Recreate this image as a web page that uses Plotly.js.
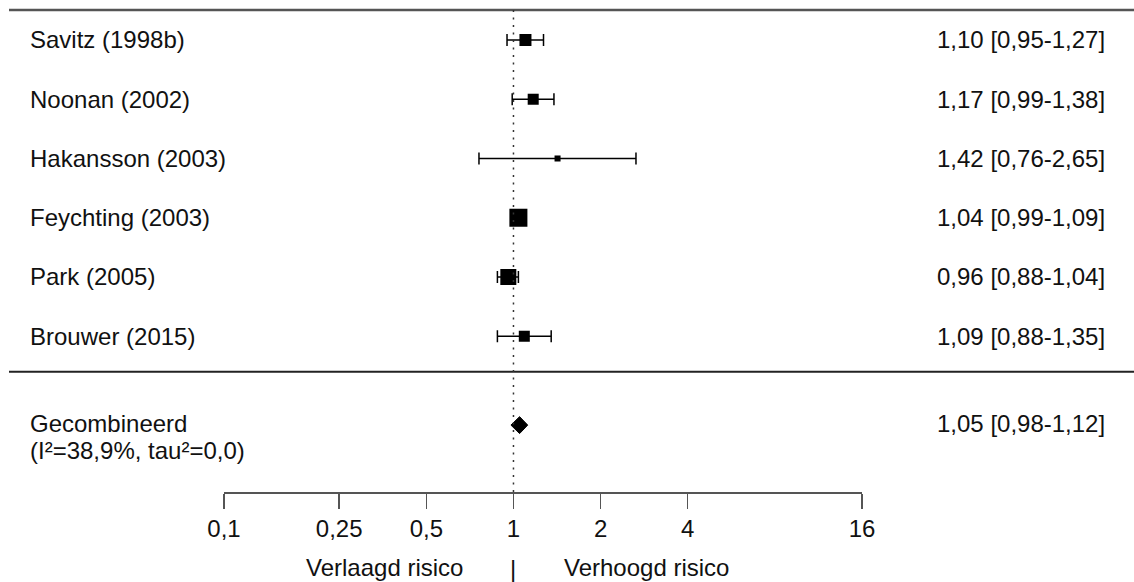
<!DOCTYPE html>
<html>
<head>
<meta charset="utf-8">
<script src="https://cdn.plot.ly/plotly-3.0.1.min.js"></script>
<style>html,body{margin:0;padding:0;background:#fff;}#chart{width:1134px;height:582px;}</style>
</head>
<body>
<div id="chart"></div>
<script>
// ---- data ----
const studies = ["Savitz (1998b)", "Noonan (2002)", "Hakansson (2003)", "Feychting (2003)", "Park (2005)", "Brouwer (2015)"];
const estimates = [1.10, 1.17, 1.42, 1.04, 0.96, 1.09];
const lowerCI = [0.95, 0.99, 0.76, 0.99, 0.88, 0.88];
const upperCI = [1.27, 1.38, 2.65, 1.09, 1.04, 1.35];
const weights = [14.4, 12.1, 3.6, 32.3, 25.5, 12.1]; // relative study weights (%)
const pooledLabel = "Gecombineerd";
const heterogeneityLabel = "(I\u00b2=38,9%, tau\u00b2=0,0)";
const pooledEstimate = 1.05;
const pooledLower = 0.98;
const pooledUpper = 1.12;
const tickValues = [0.1, 0.25, 0.5, 1, 2, 4, 16];
const tickLabels = ["0,1", "0,25", "0,5", "1", "2", "4", "16"];
const lowerLabel = "Verlaagd risico";
const upperLabel = "Verhoogd risico";

// ---- layout helpers ----
const FONT = "Liberation Sans, Arial, sans-serif";
const FS = 24;
const TXT = "#111";
const rows = studies.map((_, i) => i);
const pooledRow = rows.length + 0.5;
const fmt = v => v.toFixed(2).replace(".", ",");
const sizeScale = 3.17;
const diamondHalf = 0.143;

const traces = [];
// study CIs (whiskers)
traces.push({
  type: "scatter", mode: "markers",
  x: estimates, y: rows,
  error_x: {
    type: "data", symmetric: false,
    array: estimates.map((e, i) => upperCI[i] - e),
    arrayminus: estimates.map((e, i) => e - lowerCI[i]),
    color: "#000", thickness: 1.5, width: 6
  },
  marker: { size: 1, opacity: 0 },
  hoverinfo: "skip"
});
// study boxes
traces.push({
  type: "scatter", mode: "markers",
  x: estimates, y: rows,
  marker: { symbol: "square", color: "#000", opacity: 1, size: weights.map(w => Math.sqrt(w) * sizeScale), line: { width: 0 } },
  hoverinfo: "skip"
});
// pooled diamond
traces.push({
  type: "scatter", mode: "lines",
  x: [pooledLower, pooledEstimate, pooledUpper, pooledEstimate, pooledLower],
  y: [pooledRow, pooledRow - diamondHalf, pooledRow, pooledRow + diamondHalf, pooledRow],
  fill: "toself", fillcolor: "#000", line: { color: "#000", width: 1 },
  hoverinfo: "skip"
});
// dummy trace for bottom axis
traces.push({
  type: "scatter", mode: "markers", x: [1], y: [null], xaxis: "x2", yaxis: "y",
  marker: { opacity: 0 }, hoverinfo: "skip"
});

const W = 1134, H = 582;
const annotations = [];
studies.forEach((s, i) => {
  annotations.push({ xref: "paper", yref: "y", x: 28 / W, y: rows[i], text: s, showarrow: false,
    xanchor: "left", yanchor: "middle", font: { family: FONT, size: FS, color: TXT } });
  annotations.push({ xref: "paper", yref: "y", x: 1107 / W, y: rows[i],
    text: fmt(estimates[i]) + " [" + fmt(lowerCI[i]) + "-" + fmt(upperCI[i]) + "]",
    showarrow: false, xanchor: "right", yanchor: "middle", font: { family: FONT, size: FS, color: TXT } });
});
annotations.push({ xref: "paper", yref: "y", x: 28 / W, y: pooledRow, text: pooledLabel,
  showarrow: false, xanchor: "left", yanchor: "middle", yshift: 2,
  font: { family: FONT, size: FS, color: TXT } });
annotations.push({ xref: "paper", yref: "y", x: 28 / W, y: pooledRow, text: heterogeneityLabel,
  showarrow: false, xanchor: "left", yanchor: "middle", yshift: -25,
  font: { family: FONT, size: FS, color: TXT } });
annotations.push({ xref: "paper", yref: "y", x: 1107 / W, y: pooledRow,
  text: fmt(pooledEstimate) + " [" + fmt(pooledLower) + "-" + fmt(pooledUpper) + "]",
  showarrow: false, xanchor: "right", yanchor: "middle", yshift: 2, font: { family: FONT, size: FS, color: TXT } });
annotations.push({ xref: "x", yref: "paper", x: 0, y: 1 - 567 / H, text: lowerLabel, showarrow: false,
  xanchor: "right", yanchor: "middle", xshift: -48, font: { family: FONT, size: FS, color: TXT } });
annotations.push({ xref: "x", yref: "paper", x: 0, y: 1 - 567 / H, text: upperLabel, showarrow: false,
  xanchor: "left", yanchor: "middle", xshift: 49, font: { family: FONT, size: FS, color: TXT } });
annotations.push({ xref: "x", yref: "paper", x: 0, y: 1 - 568 / H, text: "|", showarrow: false,
  xanchor: "center", yanchor: "middle", font: { family: FONT, size: FS, color: TXT } });

const topLineY = -0.506, midLineY = 5.6, axisY = 7.63;
const shapes = [
  { type: "line", xref: "paper", yref: "y", x0: 9 / W, x1: 1, y0: topLineY, y1: topLineY, line: { color: "#555", width: 2.5 } },
  { type: "line", xref: "paper", yref: "y", x0: 9 / W, x1: 1, y0: midLineY, y1: midLineY, line: { color: "#222", width: 2 } },
  { type: "line", xref: "x", yref: "y", x0: 1, x1: 1, y0: topLineY, y1: axisY, line: { color: "#333", width: 1.5, dash: "2px,5.5px" } }
];

const layout = {
  width: W, height: H,
  margin: { l: 0, r: 0, t: 0, b: 0 },
  paper_bgcolor: "#fff", plot_bgcolor: "rgba(0,0,0,0)",
  showlegend: false,
  xaxis: { type: "log", range: [-1.7739, 2.1438], visible: false, fixedrange: true },
  yaxis: { range: [9.148, -0.675], visible: false, fixedrange: true },
  xaxis2: {
    type: "log", domain: [224 / W, 862 / W], range: [-1, Math.log10(16)],
    anchor: "free", position: 1 - 492 / H, side: "bottom",
    showline: true, linecolor: "#555", linewidth: 1.5,
    ticks: "outside", ticklen: 15, tickwidth: 1.5, tickcolor: "#555",
    tickvals: tickValues, ticktext: tickLabels, showgrid: false, zeroline: false,
    tickfont: { family: FONT, size: FS, color: TXT }, fixedrange: true
  },
  annotations: annotations,
  shapes: shapes
};

Plotly.newPlot("chart", traces, layout, { displayModeBar: false, staticPlot: true });
</script>
</body>
</html>
